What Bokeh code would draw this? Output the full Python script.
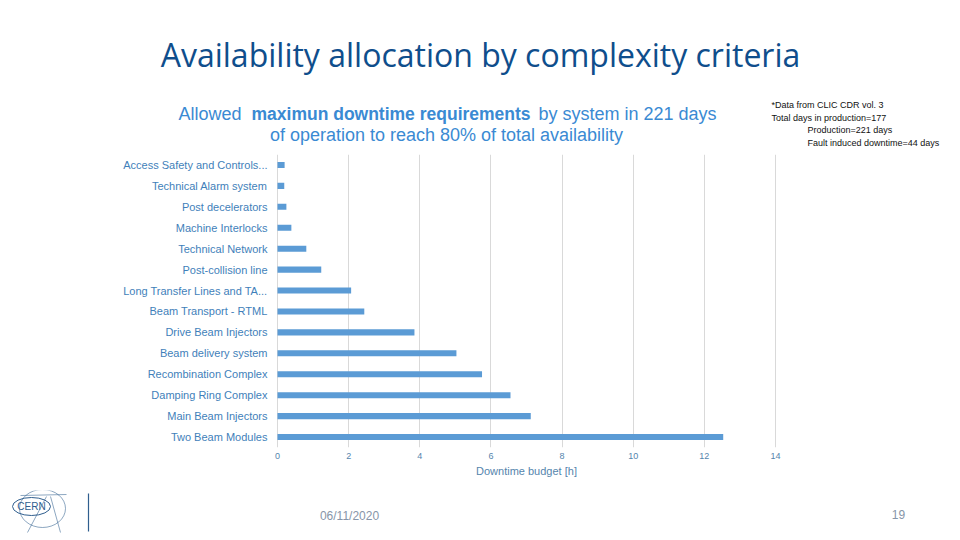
from bokeh.plotting import figure
from bokeh.models import Range1d, FixedTicker
from bokeh.layouts import column
from bokeh.core.properties import value
from bokeh.embed import file_html
from bokeh.resources import INLINE

# Downtime budget per system [h]
systems = [
    "Access Safety and Controls...",
    "Technical Alarm system",
    "Post decelerators",
    "Machine Interlocks",
    "Technical Network",
    "Post-collision line",
    "Long Transfer Lines and TA...",
    "Beam Transport - RTML",
    "Drive Beam Injectors",
    "Beam delivery system",
    "Recombination Complex",
    "Damping Ring Complex",
    "Main Beam Injectors",
    "Two Beam Modules",
]
downtime_h = [0.20, 0.19, 0.25, 0.39, 0.81, 1.23, 2.07, 2.44, 3.85, 5.03, 5.75, 6.55, 7.12, 12.53]
x_ticks = [0, 2, 4, 6, 8, 10, 12, 14]

W = 960
HEAD_H, CHART_H, FOOT_H = 150, 340, 50

BAR = "#5b9bd5"
LABEL_BLUE = "#3f7fba"
AXIS_BLUE = "#5585ad"
TITLE_BLUE = "#0f4e8c"
SUB_BLUE = "#3a8ad3"
NOTE = "#111111"
FOOT = "#8795a8"
LOGO = "#2f5e8e"


def canvas(height, y_top):
    """Blank figure whose data units are page pixels (y grows downward)."""
    f = figure(width=W, height=height, x_range=Range1d(0, W),
               y_range=Range1d(y_top + height, y_top),
               x_axis_type=None, y_axis_type=None, min_border=0,
               frame_align=False,
               output_backend="svg", toolbar_location=None,
               background_fill_color="white", border_fill_color="white")
    f.outline_line_color = None
    f.grid.grid_line_color = None
    return f


def put(f, x, y, text, size, color, font="Liberation Sans", style="normal", align="left"):
    f.text(x=[x], y=[y], text=[text], text_font=value(font), text_font_size=size,
           text_color=color, text_font_style=style, text_align=align,
           text_baseline="middle")


# ---- heading: slide title, chart subtitle, side note
head = canvas(HEAD_H, 0)
put(head, 480, 54, "Availability allocation by complexity criteria", "32px", TITLE_BLUE,
    font="Open Sans", align="center")
put(head, 178, 113, "Allowed", "18px", SUB_BLUE)
put(head, 251, 113, "maximun downtime requirements", "17.5px", SUB_BLUE, style="bold")
put(head, 716, 113, "by system in 221 days", "18px", SUB_BLUE, align="right")
put(head, 446, 134, "of operation to reach 80% of total availability", "18px", SUB_BLUE,
    align="center")
note_font = "Liberation Sans"
put(head, 771, 104, "*Data from CLIC CDR vol. 3", "9px", NOTE, font=note_font)
put(head, 771, 117, "Total days in production=177", "9px", NOTE, font=note_font)
put(head, 807, 129, "Production=221 days", "9px", NOTE, font=note_font)
put(head, 807, 142, "Fault induced downtime=44 days", "9px", NOTE, font=note_font)

# ---- bar chart
FL, FR = 276, 776
FRAME_TOP, FRAME_H = 4, 293
pad = 0.028
p = figure(
    width=W, height=CHART_H,
    x_range=Range1d(-pad, 14 + pad),
    y_range=Range1d(len(systems) - 0.5, -0.5),
    min_border_left=FL, min_border_right=W - FR,
    min_border_top=FRAME_TOP, min_border_bottom=CHART_H - FRAME_TOP - FRAME_H,
    frame_align=False,
    output_backend="svg", toolbar_location=None,
    background_fill_color="white", border_fill_color="white",
)
p.outline_line_color = None

ypos = list(range(len(systems)))
p.hbar(y=ypos, right=downtime_h, left=0, height=0.29, color=BAR, line_color=None)

xa = p.xaxis[0]
xa.ticker = FixedTicker(ticks=x_ticks)
xa.axis_line_color = None
xa.major_tick_line_color = None
xa.minor_tick_line_color = None
xa.major_tick_out = 0
xa.minor_tick_out = 0
xa.major_label_text_font = "Liberation Sans"
xa.major_label_text_font_size = "9px"
xa.major_label_text_color = AXIS_BLUE
xa.major_label_standoff = 5
xa.axis_label = "Downtime budget [h]"
xa.axis_label_text_font = "Liberation Sans"
xa.axis_label_text_font_size = "11px"
xa.axis_label_text_font_style = "normal"
xa.axis_label_text_color = AXIS_BLUE
xa.axis_label_standoff = 3

ya = p.yaxis[0]
ya.ticker = FixedTicker(ticks=ypos)
ya.major_label_overrides = {i: s for i, s in enumerate(systems)}
ya.axis_line_color = None
ya.major_tick_line_color = None
ya.minor_tick_line_color = None
ya.major_tick_out = 0
ya.minor_tick_out = 0
ya.major_label_text_font = "Liberation Sans"
ya.major_label_text_font_size = "11px"
ya.major_label_text_color = LABEL_BLUE
ya.major_label_standoff = 9

p.xgrid.grid_line_color = "#d9d9d9"
p.xgrid.ticker = FixedTicker(ticks=x_ticks)
p.ygrid.grid_line_color = None

# ---- footer: logo, date, page number
foot = canvas(FOOT_H, HEAD_H + CHART_H)
foot.ellipse(x=[31], y=[506], width=[38], height=[18], fill_color=None,
             line_color=LOGO, line_width=1)
foot.ellipse(x=[42], y=[508], width=[46], height=[38], fill_color=None,
             line_color=LOGO, line_width=1, line_alpha=0.55)
foot.segment(x0=[20, 27, 60], y0=[495, 532, 532], x1=[66, 46, 50], y1=[494, 496, 496],
             line_color=LOGO, line_width=1, line_alpha=0.55)
foot.segment(x0=[88], y0=[493], x1=[88], y1=[531], line_color=LOGO, line_width=1.2)
put(foot, 31, 506, "CERN", "10px", LOGO, align="center")
put(foot, 349, 515, "06/11/2020", "12px", FOOT, align="center")
put(foot, 898, 514, "19", "12px", FOOT, align="center")

layout = column(head, p, foot, spacing=0)
open("out.html", "w").write(file_html(layout, INLINE))
